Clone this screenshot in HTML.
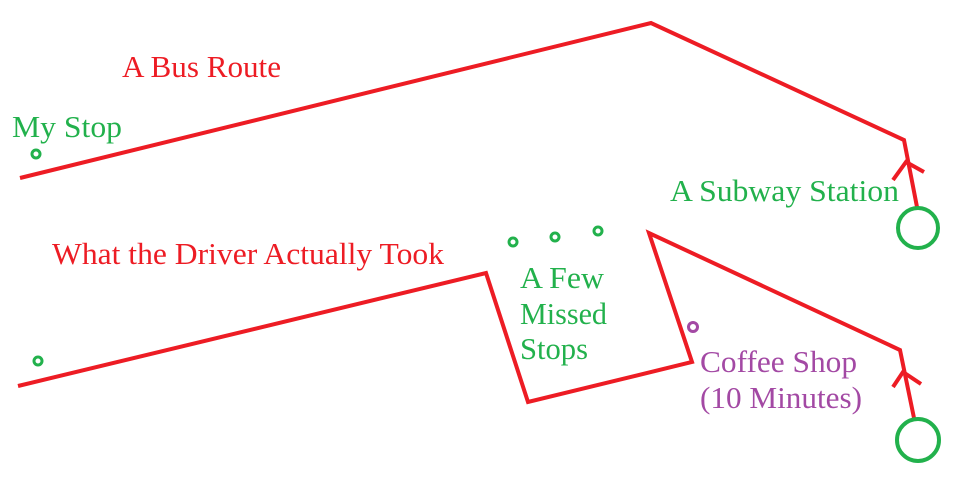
<!DOCTYPE html>
<html><head><style>
html,body{margin:0;padding:0;background:#fff;}
svg{display:block;}
text{font-family:"Liberation Serif",serif;font-size:31px;}
</style></head><body>
<svg width="965" height="478" viewBox="0 0 965 478">
<g fill="none" stroke="#ed1c24" stroke-width="4" stroke-linejoin="miter">
<polyline points="20,178 651,23 904,140 917,207"/>
<polyline points="893,180 906,162 924,172"/>
<polyline points="18,386 486,273 528,402 692,362 649,233 900,350 914,418"/>
<polyline points="893,387 903,372 921,384"/>
</g>
<g fill="none" stroke="#22b14c">
<circle cx="918" cy="228" r="20" stroke-width="4"/>
<circle cx="918" cy="440" r="21" stroke-width="4"/>
<circle cx="36" cy="154" r="4" stroke-width="3"/>
<circle cx="38" cy="361" r="4" stroke-width="3"/>
<circle cx="513" cy="242" r="4" stroke-width="3"/>
<circle cx="555" cy="237" r="4" stroke-width="3"/>
<circle cx="598" cy="231" r="4" stroke-width="3"/>
</g>
<circle cx="693" cy="327" r="4.5" fill="none" stroke="#a349a4" stroke-width="3"/>
<g fill="#ed1c24">
<text x="122" y="77" textLength="159" lengthAdjust="spacingAndGlyphs">A Bus Route</text>
<text x="52" y="264" textLength="392" lengthAdjust="spacingAndGlyphs">What the Driver Actually Took</text>
</g>
<g fill="#22b14c">
<text x="12" y="137" textLength="110" lengthAdjust="spacingAndGlyphs">My Stop</text>
<text x="670" y="201" textLength="229" lengthAdjust="spacingAndGlyphs">A Subway Station</text>
<text x="520" y="288" textLength="84" lengthAdjust="spacingAndGlyphs">A Few</text>
<text x="520" y="324" textLength="87" lengthAdjust="spacingAndGlyphs">Missed</text>
<text x="520" y="359" textLength="68" lengthAdjust="spacingAndGlyphs">Stops</text>
</g>
<g fill="#a349a4">
<text x="700" y="372" textLength="157" lengthAdjust="spacingAndGlyphs">Coffee Shop</text>
<text x="700" y="408" textLength="162" lengthAdjust="spacingAndGlyphs">(10 Minutes)</text>
</g>
</svg>
</body></html>
